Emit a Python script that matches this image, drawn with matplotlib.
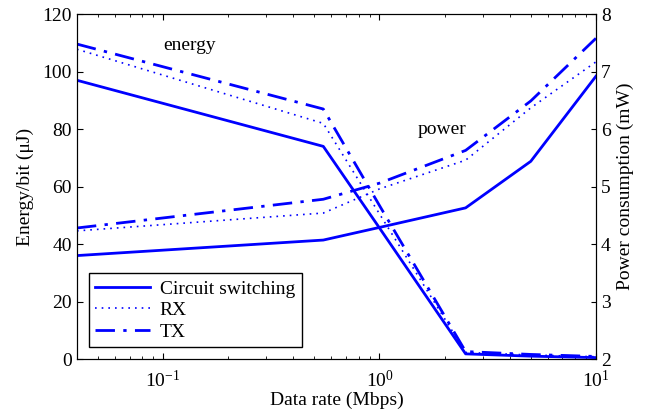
import matplotlib
matplotlib.use("Agg")
import matplotlib.pyplot as plt
from matplotlib.ticker import LogLocator, NullFormatter

plt.rcParams['font.family'] = ['Liberation Serif', 'DejaVu Serif']
plt.rcParams['mathtext.fontset'] = 'stix'
plt.rcParams['font.size'] = 14

# data rate (Mbps)
rate = [0.04, 0.55, 1.0, 2.5, 5.0, 10.0]

# energy per bit (uJ)
energy_cs = [97.0, 74.0, 45.6, 1.8, 1.0, 0.5]
energy_rx = [107.8, 82.0, 50.5, 2.3, 1.4, 0.8]
energy_tx = [109.6, 87.0, 53.4, 2.6, 1.6, 0.9]

# power consumption (mW)
power_cs = [3.80, 4.07, 4.29, 4.63, 5.44, 6.92]
power_rx = [4.23, 4.54, 4.96, 5.46, 6.37, 7.17]
power_tx = [4.28, 4.78, 5.06, 5.63, 6.49, 7.58]

blue = (0, 0, 1)
dot = (0, (1, 3))
dashdot = (0, (7, 3, 1.2, 3))

fig = plt.figure(figsize=(6.52, 4.17), dpi=100)
ax = fig.add_axes([0.118, 0.139, 0.796, 0.827])
ax2 = ax.twinx()

ax.plot(rate, energy_cs, color=blue, lw=2.0, label='Circuit switching')
ax.plot(rate, energy_rx, color=blue, lw=1.2, linestyle=dot, label='RX')
ax.plot(rate, energy_tx, color=blue, lw=2.0, linestyle=dashdot, label='TX')

ax2.plot(rate, power_cs, color=blue, lw=2.0)
ax2.plot(rate, power_rx, color=blue, lw=1.2, linestyle=dot)
ax2.plot(rate, power_tx, color=blue, lw=2.0, linestyle=dashdot)

ax.set_xscale('log')
ax.set_xlim(0.04, 10)
ax.set_ylim(0, 120)
ax2.set_ylim(2, 8)
ax.set_yticks(range(0, 121, 20))
ax2.set_yticks(range(2, 9))
ax.xaxis.set_minor_locator(LogLocator(base=10, subs=range(2, 10)))
ax.xaxis.set_minor_formatter(NullFormatter())

ax.tick_params(which='both', direction='in', top=True)
ax.tick_params(axis='y', right=False)
ax.tick_params(axis='x', pad=8)
ax2.tick_params(direction='in')
ax.tick_params(which='major', length=4)
ax.tick_params(which='minor', length=2.5)

ax.set_xlabel('Data rate (Mbps)', labelpad=0)
ax.set_ylabel('Energy/bit (μJ)', labelpad=6)
ax2.set_ylabel('Power consumption (mW)')

ax.text(0.133, 109, 'energy', ha='center', va='center')
ax.text(1.95, 80, 'power', ha='center', va='center')

leg = ax.legend(loc='lower left', handlelength=2.8, fancybox=False,
                edgecolor='black', framealpha=1, borderaxespad=0.6,
                labelspacing=0.2, handletextpad=0.5, borderpad=0.35)
leg.get_frame().set_linewidth(1.0)

fig.savefig('out.png', dpi=100)
